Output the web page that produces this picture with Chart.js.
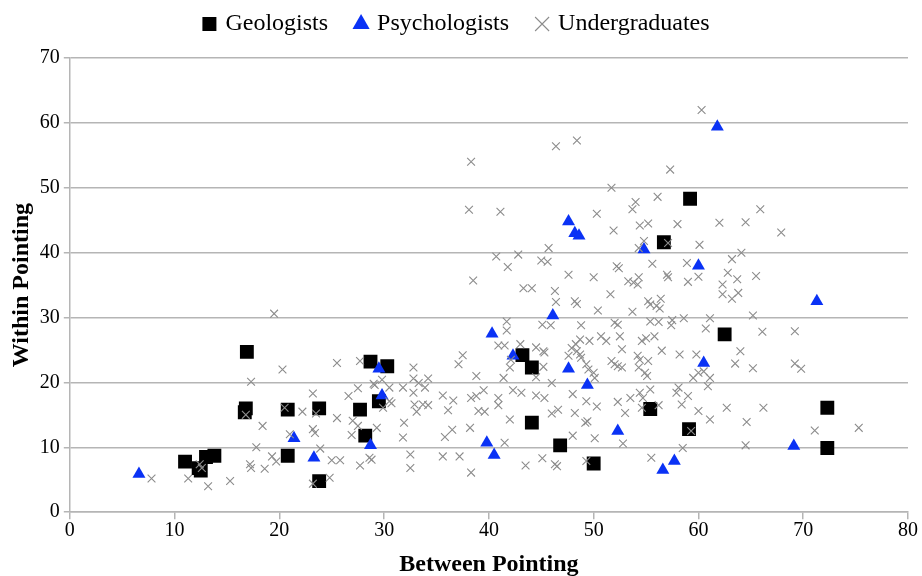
<!DOCTYPE html>
<html>
<head>
<meta charset="utf-8">
<script src="https://cdn.jsdelivr.net/npm/chart.js@4.4.0/dist/chart.umd.min.js"></script>
<style>
  html, body { margin: 0; padding: 0; background: #fff; }
  #wrap { width: 922px; height: 576px; }
</style>
</head>
<body>
<div id="wrap"><canvas id="scatter" width="922" height="576"></canvas></div>
<script>
// [between, within] pairs
const geologists = [
  [11.0, 7.8], [12.3, 6.8], [12.5, 6.4], [13.0, 8.5], [13.8, 8.7],
  [16.7, 15.4], [16.8, 16.0], [16.9, 24.7], [20.8, 15.8], [20.8, 8.7],
  [23.8, 16.0], [23.8, 4.8], [27.7, 15.8], [28.2, 11.8], [28.7, 23.2],
  [29.5, 17.1], [30.3, 22.5], [43.2, 24.2], [44.1, 22.3], [44.1, 13.8],
  [46.8, 10.3], [50.0, 7.5], [55.4, 15.9], [59.1, 12.8], [59.2, 48.3],
  [56.7, 41.6], [62.5, 27.4], [72.3, 16.1], [72.3, 9.9]
];

const psychologists = [
  [6.6, 5.9], [21.4, 11.4], [23.3, 8.4], [28.7, 10.3], [29.5, 22.1],
  [29.8, 18.0], [39.8, 10.7], [40.3, 27.5], [40.5, 8.8], [42.3, 24.1],
  [47.6, 22.1], [47.6, 44.8], [48.2, 43.0], [48.6, 42.6], [46.1, 30.3],
  [49.4, 19.6], [52.3, 12.5], [54.8, 40.5], [56.6, 6.5], [57.7, 7.9],
  [60.0, 38.0], [60.5, 23.0], [61.8, 59.4], [69.1, 10.2], [71.3, 32.5]
];

const undergraduates = [
  [7.8, 5.2], [11.3, 5.2], [12.4, 7.4], [12.6, 6.8], [13.2, 4.0], [15.3, 4.8],
  [16.8, 15.0], [17.2, 7.4], [17.3, 6.8], [17.3, 20.1], [17.8, 10.0], [18.4, 13.3],
  [18.6, 6.7], [19.3, 8.6], [19.5, 30.6], [19.7, 7.8], [20.3, 22.0], [20.5, 16.1],
  [21.0, 12.0], [22.2, 15.5], [23.2, 18.3], [23.2, 12.8], [23.4, 12.2], [23.5, 15.2],
  [23.2, 4.4], [23.9, 9.8], [24.8, 5.3], [25.0, 8.0], [25.5, 23.0], [25.5, 14.5],
  [25.8, 8.0], [26.6, 17.9], [26.9, 11.9], [27.0, 14.1], [27.5, 19.1], [27.5, 13.3],
  [27.7, 23.3], [27.7, 7.2], [28.6, 8.4], [28.8, 8.1], [29.0, 19.8], [29.1, 19.6],
  [29.3, 13.0], [29.8, 20.4], [29.9, 16.1], [30.5, 17.1], [30.5, 19.2], [30.7, 16.8],
  [31.8, 19.2], [31.9, 13.8], [31.8, 11.5], [32.5, 8.9], [32.5, 6.8], [32.8, 22.3],
  [32.8, 20.6], [32.8, 18.4], [32.9, 16.6], [33.1, 15.5], [33.3, 19.9], [33.7, 16.6],
  [33.9, 19.2], [34.2, 20.6], [34.2, 16.5], [35.6, 18.0], [35.6, 8.6], [35.8, 11.6],
  [36.1, 15.7], [36.5, 12.7], [36.6, 17.2], [37.1, 22.8], [37.2, 8.6], [37.5, 24.2],
  [38.1, 46.6], [38.3, 54.0], [38.5, 35.7], [38.2, 13.0], [38.3, 6.1], [38.3, 17.6],
  [38.8, 17.9], [38.8, 21.0], [39.0, 15.6], [39.5, 18.8], [39.6, 15.5],
  [40.7, 39.4], [40.9, 25.7], [40.9, 17.6], [40.9, 16.5], [41.1, 46.3], [41.4, 20.7],
  [41.5, 25.7], [41.5, 10.7], [41.7, 29.4], [41.7, 28.0], [41.8, 37.8], [42.0, 22.3],
  [42.0, 14.3], [42.1, 23.5], [42.3, 18.8], [42.8, 39.7], [43.0, 25.9], [43.1, 18.4],
  [43.3, 34.5], [43.5, 7.2], [44.1, 34.5], [44.5, 25.4], [44.5, 20.8], [44.5, 18.0],
  [45.0, 38.8], [45.1, 28.9], [45.1, 8.3], [45.2, 24.8], [45.6, 38.6], [45.2, 22.4],
  [45.3, 17.6], [45.3, 24.6], [45.7, 40.7], [45.9, 28.8], [46.0, 19.9], [46.0, 15.2],
  [46.6, 15.8], [46.3, 34.1], [46.4, 32.4], [46.3, 7.4], [46.5, 7.1], [46.4, 56.4],
  [47.6, 36.6], [47.6, 24.1], [47.9, 25.3], [48.0, 18.2], [48.0, 11.8], [48.2, 32.5],
  [48.4, 32.1], [48.2, 15.3], [48.3, 25.9], [48.4, 57.3], [48.4, 24.8], [48.7, 26.6],
  [48.7, 24.3], [48.8, 28.8], [48.8, 23.8], [49.2, 13.8], [49.3, 22.8], [49.3, 17.1],
  [49.3, 7.9], [49.4, 14.0], [49.5, 22.0], [49.6, 26.4],
  [50.0, 36.2], [50.0, 21.5], [50.1, 20.7], [50.1, 11.4], [50.3, 16.3], [50.3, 46.0],
  [50.4, 31.1], [50.7, 27.1], [51.2, 26.4], [51.6, 33.6], [51.7, 50.0], [51.7, 23.3],
  [51.9, 43.4], [52.0, 29.2], [52.0, 22.8], [52.2, 37.9], [52.3, 28.9], [52.3, 22.5],
  [52.3, 17.0], [52.4, 37.6], [52.5, 27.1], [52.7, 25.1], [52.7, 22.3], [52.8, 10.6],
  [53.0, 15.3], [53.3, 35.6], [53.5, 17.6], [53.7, 30.9], [53.7, 46.7], [53.8, 35.4],
  [54.0, 47.8], [54.2, 35.1], [54.2, 24.1], [54.3, 36.2], [54.3, 40.7], [54.3, 22.3],
  [54.4, 44.2], [54.4, 23.5], [54.4, 18.4], [54.6, 26.4], [54.6, 16.1], [54.7, 17.6],
  [54.8, 41.8], [54.9, 21.5], [55.0, 26.8], [55.1, 21.0], [55.2, 44.5], [55.2, 32.5],
  [55.2, 23.3], [55.4, 32.0], [55.4, 29.4], [55.4, 18.9], [55.5, 8.4], [55.6, 38.3],
  [55.8, 27.1], [56.0, 31.8], [56.1, 48.6], [56.2, 29.3], [56.2, 16.5], [56.3, 31.4],
  [56.4, 32.9], [56.5, 24.9],
  [57.0, 36.6], [57.1, 36.2], [57.1, 41.5], [57.3, 52.8], [57.4, 28.8], [57.5, 29.6],
  [57.9, 18.4], [58.0, 44.4], [58.1, 19.2], [58.2, 24.3], [58.4, 16.6], [58.5, 9.9],
  [58.6, 29.9], [58.9, 38.4], [59.0, 35.5], [59.0, 17.9], [59.3, 12.5], [59.5, 20.7],
  [59.8, 24.3], [60.0, 21.5], [60.0, 15.6], [60.0, 36.3], [60.1, 41.2], [60.3, 62.0],
  [60.5, 21.7], [60.7, 28.3], [60.9, 19.4], [61.1, 29.9], [61.1, 20.7], [61.1, 14.3],
  [62.0, 44.6], [62.3, 35.1], [62.3, 33.6], [62.7, 16.1], [62.8, 36.9], [63.2, 39.0],
  [63.2, 32.9], [63.5, 22.9], [63.7, 35.9], [63.8, 33.8], [64.0, 24.8], [64.1, 40.0],
  [64.5, 44.7], [64.5, 10.3], [64.6, 13.9], [65.2, 30.3], [65.2, 22.2], [65.5, 36.4],
  [65.9, 46.7], [66.1, 27.8], [66.2, 16.1], [67.9, 43.1], [69.2, 27.9], [69.2, 22.9],
  [69.8, 22.1], [71.1, 12.6], [75.3, 13.0]
];

const xTicks = [0, 10, 20, 30, 40, 50, 60, 70, 80];
const yTicks = [0, 10, 20, 30, 40, 50, 60, 70];

const toPoints = (arr) => arr.map(([x, y]) => ({ x, y }));

const serif = "'Liberation Serif', 'DejaVu Serif', serif";
const gridColor = "#b5b5b5";

// push the plot area a bit further below the legend
const legendSpacer = {
  id: "legendSpacer",
  beforeInit(chart) {
    const fit = chart.legend.fit;
    chart.legend.fit = function () {
      fit.bind(chart.legend)();
      this.height += 12;
    };
  },
};

const ctx = document.getElementById("scatter").getContext("2d");

new Chart(ctx, {
  type: "scatter",
  data: {
    datasets: [
      {
        label: "Geologists",
        data: toPoints(geologists),
        pointStyle: "rect",
        pointRadius: 9.8,
        pointHoverRadius: 9.8,
        backgroundColor: "#000000",
        borderColor: "#000000",
        borderWidth: 0,
        order: 2,
      },
      {
        label: "Psychologists",
        data: toPoints(psychologists),
        pointStyle: "triangle",
        pointRadius: 7.5,
        pointHoverRadius: 7.5,
        backgroundColor: "#0a32f5",
        borderColor: "#0a32f5",
        borderWidth: 0,
        order: 1,
      },
      {
        label: "Undergraduates",
        data: toPoints(undergraduates),
        pointStyle: "crossRot",
        pointRadius: 5.5,
        pointHoverRadius: 5.5,
        backgroundColor: "#888888",
        borderColor: "#8c8c8c",
        borderWidth: 1.1,
        order: 0,
      },
    ],
  },
  options: {
    responsive: false,
    animation: false,
    layout: { padding: { top: -17, right: 14, left: 7, bottom: 0 } },
    plugins: {
      tooltip: { enabled: false },
      legend: {
        position: "top",
        labels: {
          usePointStyle: true,
          boxHeight: 14,
          boxWidth: 8,
          padding: 29,
          color: "#000",
          font: { family: serif, size: 24 },
          sort: (a, b) => a.datasetIndex - b.datasetIndex,
        },
      },
    },
    scales: {
      x: {
        type: "linear",
        min: 0,
        max: 80,
        afterBuildTicks: (axis) => { axis.ticks = xTicks.map((v) => ({ value: v })); },
        border: { color: gridColor, width: 1.5 },
        grid: { drawOnChartArea: false, drawTicks: true, tickLength: 7, color: gridColor, lineWidth: 1.5 },
        ticks: { color: "#000", font: { family: serif, size: 20 }, padding: 0 },
        title: {
          display: true,
          text: "Between Pointing",
          color: "#000",
          font: { family: serif, size: 24, weight: "bold" },
          padding: { top: 7, bottom: -3 },
        },
      },
      y: {
        type: "linear",
        min: 0,
        max: 70,
        afterBuildTicks: (axis) => { axis.ticks = yTicks.map((v) => ({ value: v })); },
        border: { color: gridColor, width: 1.5 },
        grid: { drawTicks: true, tickLength: 6, color: gridColor, lineWidth: 1.5 },
        ticks: { color: "#000", font: { family: serif, size: 20 }, padding: 4 },
        title: {
          display: true,
          text: "Within Pointing",
          color: "#000",
          font: { family: serif, size: 24, weight: "bold" },
          padding: { top: 0, bottom: 0 },
        },
      },
    },
  },
  plugins: [legendSpacer],
});
</script>
</body>
</html>
